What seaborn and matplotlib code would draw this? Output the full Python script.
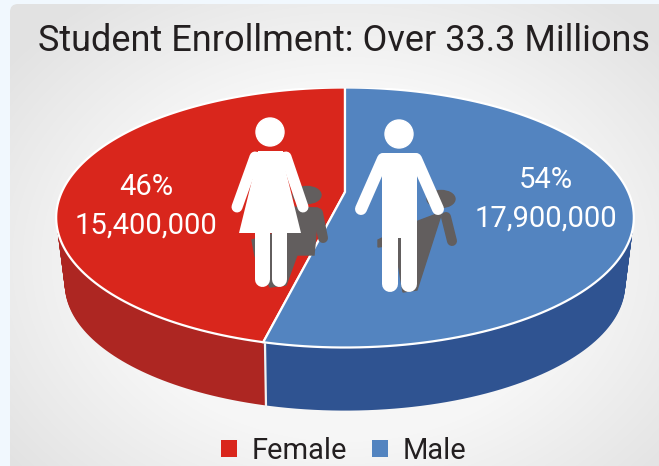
import numpy as np, matplotlib
matplotlib.use("Agg"); import matplotlib.pyplot as plt
import seaborn as sns
from matplotlib.patches import Circle, Ellipse, FancyBboxPatch, Patch, Polygon
from matplotlib.transforms import Affine2D

sns.set_theme(style="white")
plt.rcParams["font.family"] = ["Roboto", "DejaVu Sans"]

TITLE = "Student Enrollment: Over 33.3 Millions"
groups = ["Female", "Male"]
enrollment = [15400000, 17900000]
percents = [46, 54]
top_colors = ["#d9261c", "#5384c0"]
side_colors = ["#ad2622", "#2f5391"]

W, H = 659, 466
RX, RY, DEPTH = 290, 130, 67   # ellipse radii and wall height, px
CX, CY = 345, 217.5
TILT = 0.196                   # perspective: how far the pie centre sits above the ellipse centre

fig = plt.figure(figsize=(W/100, H/100), dpi=100, facecolor="#f1f8fe")

# ---- panel with radial gradient ----
bg = fig.add_axes([0, 0, 1, 1], zorder=0); bg.set_xlim(0, W); bg.set_ylim(H, 0); bg.axis("off")
yy, xx = np.mgrid[0:H, 0:W]
dist = np.hypot((xx - 345)/430, (yy - 260)/330)
img = bg.imshow(np.clip(dist, 0, 1), cmap=sns.blend_palette(["#f9f9f9", "#f6f6f6", "#e2e2e2"], as_cmap=True),
                extent=(0, W, H, 0), aspect="auto", vmin=0.1, vmax=1)
panel = FancyBboxPatch((10+8, 4+8), W+40, H+40, boxstyle="round,pad=8", fc="none", ec="none")
bg.add_patch(panel); img.set_clip_path(panel)

# ---- pie: unit circle squashed to an ellipse, walls stacked below it ----
ax = fig.add_axes([(CX-RX)/W, 1 - (CY+RY+DEPTH)/H, 2*RX/W, (2*RY+DEPTH)/H], zorder=1)

def warp(wedges, colors, drop, scale=1.0, **kw):
    # replace pie wedges by a perspective view of them (disk maps onto itself)
    for w, c in zip(wedges, colors):
        polys = w.get_path().transformed(Affine2D().scale(1000)).to_polygons()
        w.remove()
        xy = polys[0]/1000
        d = 1 + TILT*xy[:, 1]
        nx = xy[:, 0]*np.sqrt(1 - TILT**2)/d
        ny = (xy[:, 1] + TILT)/d
        ax.add_patch(Polygon(np.c_[nx*scale, ny*scale - drop], closed=True, fc=c, **kw))

# walls taper slightly towards the bottom
for drop in np.linspace(DEPTH/RY, 0, 50, endpoint=False):
    wedges, _ = ax.pie(enrollment, startangle=90, counterclock=True)
    warp(wedges, side_colors, drop, scale=1 - 0.03*drop*RY/DEPTH, ec="none", lw=0)
wedges, _ = ax.pie(enrollment, startangle=90, counterclock=True)
warp(wedges, top_colors, 0, ec="white", lw=1.6, joinstyle="miter")
ax.set_aspect("auto"); ax.set_xlim(-1.004, 1.004); ax.set_ylim(-1 - DEPTH/RY, 1.0); ax.axis("off")

# ---- overlay in pixel coordinates ----
ov = fig.add_axes([0, 0, 1, 1], zorder=2); ov.set_xlim(0, W); ov.set_ylim(H, 0); ov.axis("off")
ov.patch.set_alpha(0)
ov.plot([265, 266], [344, 407], color="#f2f2f2", lw=1.6)

def limb(p, q, width, color):
    ov.plot([p[0], q[0]], [p[1], q[1]], color=color, lw=width*0.72, solid_capstyle="round")

SHADOW = "#625e5e"
# woman's shadow
ov.add_patch(Ellipse((307, 195), 28, 17, color=SHADOW))
ov.add_patch(Polygon([(288, 207), (318, 208), (317, 222), (314, 255), (297, 255), (286, 285), (270, 287),
                      (255, 256), (252, 240), (285, 230)], color=SHADOW))
limb((318, 213), (323, 238), 10, SHADOW)
# man's shadow
ov.add_patch(Ellipse((441, 199), 28, 17, color=SHADOW))
ov.add_patch(Polygon([(413, 223), (442, 212), (417, 290), (403, 292), (395, 245), (378, 247), (378, 240)], color=SHADOW))
limb((446, 217), (452, 241), 10, SHADOW)

# woman
ov.add_patch(Circle((270, 132), 14, color="white"))
ov.add_patch(Polygon([(258, 151), (283, 151), (285, 168), (301, 233), (239, 233), (255, 168)], color="white", lw=0))
limb((256, 157), (285, 157), 11, "white")
limb((255, 157), (237, 207), 11, "white")
limb((286, 157), (303, 207), 11, "white")
limb((262, 232), (262, 279), 15, "white")
limb((279, 232), (279, 279), 15, "white")

# man
ov.add_patch(Circle((399, 134), 14, color="white"))
ov.add_patch(Polygon([(388, 153), (410, 153), (417, 172), (417, 238), (382, 238), (382, 172)], color="white", lw=0))
limb((384, 159), (415, 159), 12, "white")
limb((383, 159), (361, 209), 12, "white")
limb((416, 159), (438, 209), 12, "white")
limb((390, 232), (390, 284), 16, "white")
limb((409, 232), (409, 284), 16, "white")

# ---- text ----
ov.text(344, 41, TITLE, ha="center", va="center", fontsize=26, color="#231f20")
label_xy = [(146, 187, 226), (546, 180, 219)]
for (x, y1, y2), p, n in zip(label_xy, percents, enrollment):
    ov.text(x, y1, f"{p}%", ha="center", va="center", fontsize=21, color="white")
    ov.text(x, y2, f"{n:,}", ha="center", va="center", fontsize=21, color="white")

handles = [Patch(fc=c, ec="none", label=g) for g, c in zip(groups, top_colors)]
ov.legend(handles=handles, ncol=2, frameon=False, loc="center", bbox_to_anchor=(343.5, 451),
          bbox_transform=ov.transData, fontsize=21, handlelength=0.55, handleheight=0.55,
          handletextpad=0.5, columnspacing=0.87, labelcolor="#231f20", borderpad=0)

fig.savefig("out.png", dpi=100)
